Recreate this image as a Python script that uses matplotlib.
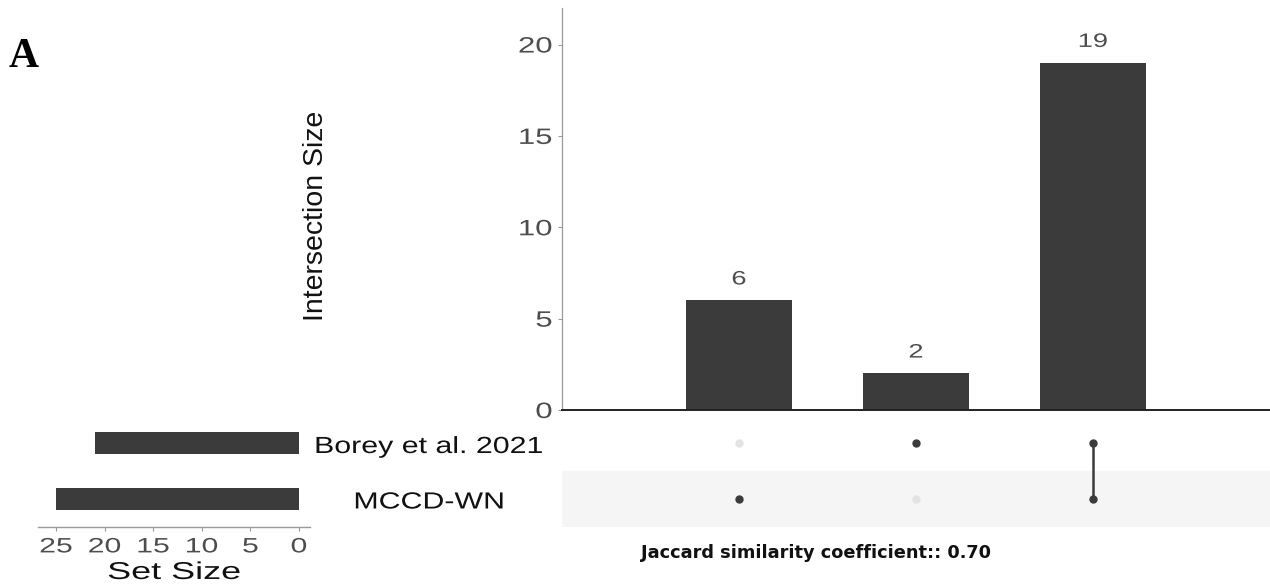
import matplotlib
matplotlib.use("Agg")
import matplotlib.pyplot as plt
from matplotlib.patheffects import AbstractPathEffect
from matplotlib.transforms import Affine2D

# Data
sets = ["MCCD-WN", "Borey et al. 2021"]          # bottom row first
set_sizes = [25, 21]
intersections = [6, 2, 19]
# membership per intersection: (MCCD-WN, Borey)
membership = [(1, 0), (0, 1), (1, 1)]
jaccard = 0.70
y_ticks = [0, 5, 10, 15, 20]
set_ticks = [25, 20, 15, 10, 5, 0]

bar_color = "#3b3b3b"
tick_color = "#4d4d4d"
sans = ["Liberation Sans", "DejaVu Sans"]


class WideText(AbstractPathEffect):
    """Draw text glyphs widened horizontally about a chosen edge of the ink."""

    def __init__(self, sx, anchor="center"):
        super().__init__()
        self.sx = sx
        self.anchor = anchor

    def draw_path(self, renderer, gc, tpath, affine, rgbFace=None):
        ext = tpath.get_extents(affine)
        x0 = {"left": ext.x0, "center": 0.5 * (ext.x0 + ext.x1), "right": ext.x1}[self.anchor]
        widen = affine + Affine2D().translate(-x0, 0).scale(self.sx, 1).translate(x0, 0)
        renderer.draw_path(gc, tpath, widen, rgbFace)


W, H = 1270, 588
fig = plt.figure(figsize=(W / 100, H / 100), dpi=100)


def box(l, t, r, b):
    return [l / W, 1 - b / H, (r - l) / W, (b - t) / H]


# Intersection size bars
ax = fig.add_axes(box(562, 8, 1270, 410))
xs = [1, 2, 3]
ax.bar(xs, intersections, width=0.6, color=bar_color)
for x, v in zip(xs, intersections):
    ax.text(x, v + 0.87, str(v), ha="center", va="baseline",
            fontsize=14, color=tick_color, family=sans,
            path_effects=[WideText(1.4)])
ax.set_xlim(0, 4)
ax.set_ylim(0, 22)
ax.set_yticks(y_ticks)
ax.set_yticklabels([str(t) for t in y_ticks], family=sans, fontsize=16, color=tick_color,
                   path_effects=[WideText(1.4, "right")])
ax.set_xticks([])
for s in ["top", "right"]:
    ax.spines[s].set_visible(False)
ax.spines["left"].set_color("#999999")
ax.spines["left"].set_linewidth(0.9)
ax.spines["bottom"].set_color("#222222")
ax.spines["bottom"].set_linewidth(1.4)
ax.tick_params(axis="y", length=3, width=0.8, color="#999999", pad=4)
fig.text(316 / W, 1 - 216 / H, "Intersection Size", rotation=90, ha="center", va="center",
         fontsize=20.5, family=sans, color="#111111")

# Membership matrix
mx = fig.add_axes(box(562, 415, 1270, 527))
mx.set_xlim(0, 4)
mx.set_ylim(-0.5, 1.5)
mx.axhspan(-0.5, 0.5, color="#f5f5f5", zorder=0)
for x, mem in zip(xs, membership):
    for row, m in enumerate(mem):
        mx.plot(x, row, "o", ms=5, color=bar_color if m else "#e3e3e3", zorder=3)
    active = [r for r, m in enumerate(mem) if m]
    if len(active) > 1:
        mx.plot([x, x], [min(active), max(active)], color=bar_color, lw=1.8, zorder=2)
mx.axis("off")

# Set size bars
sx = fig.add_axes(box(38, 415, 310, 527))
sx.barh([0, 1], set_sizes, height=0.41, color=bar_color)
sx.set_ylim(-0.5, 1.5)
sx.set_xlim(26.85, -1.13)
sx.set_xticks(set_ticks)
sx.set_xticklabels([str(t) for t in set_ticks], family=sans, fontsize=15, color=tick_color,
                   path_effects=[WideText(1.45)])
sx.set_yticks([])
for s in ["top", "right", "left"]:
    sx.spines[s].set_visible(False)
sx.spines["bottom"].set_color("#999999")
sx.spines["bottom"].set_linewidth(1.0)
sx.tick_params(axis="x", length=3, width=0.8, color="#999999", pad=4.5)
sx.set_xlabel("Set Size", family=sans, fontsize=17.5, color="#111111", labelpad=4,
              path_effects=[WideText(1.48)])

# Set names
for row, name in enumerate(sets):
    y = 1 - (508.5 - 55.5 * row) / H
    fig.text(429 / W, y, name, ha="center", va="baseline", fontsize=16.8,
             family=sans, color="#111111", path_effects=[WideText(1.3)])

fig.text(816 / W, 1 - 553 / H, f"Jaccard similarity coefficient:: {jaccard:.2f}",
         ha="center", va="center", fontsize=12.8, fontweight="bold",
         family="DejaVu Sans", color="#111111")

fig.text(9 / W, 1 - 67 / H, "A", ha="left", va="baseline", fontsize=30,
         fontweight="bold", family="Liberation Serif", color="#000000")

fig.savefig("out.png", dpi=100)
